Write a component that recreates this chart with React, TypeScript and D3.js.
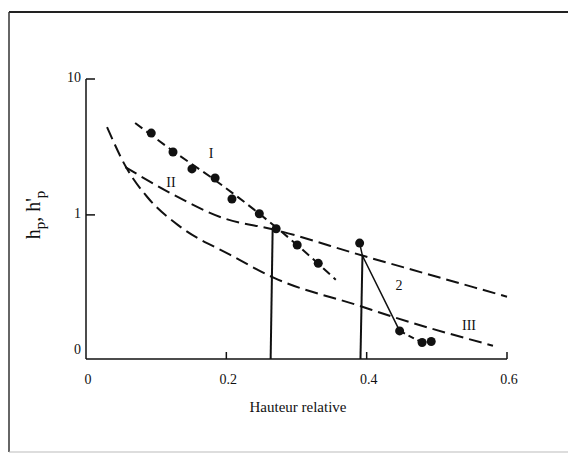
import React from 'react';
import * as d3 from 'd3';

// series I: measured points (dots) and its fitted dashed curve
const dotsIx = [0.093, 0.124, 0.151, 0.184, 0.208, 0.247, 0.271, 0.301, 0.331];
const dotsIy = [4.0, 2.9, 2.18, 1.87, 1.31, 1.02, 0.79, 0.6, 0.44];
const curveIx = [0.07, 0.124, 0.184, 0.247, 0.301, 0.356];
const curveIy = [4.75, 2.95, 1.8, 1.02, 0.6, 0.333];

// curve II
const curveIIx = [0.056, 0.12, 0.195, 0.268, 0.395, 0.48, 0.6];
const curveIIy = [2.25, 1.45, 0.95, 0.78, 0.5, 0.375, 0.25];

// curve III
const curveIIIx = [0.03, 0.057, 0.087, 0.134, 0.205, 0.268, 0.39, 0.437, 0.58];
const curveIIIy = [4.43, 2.25, 1.36, 0.82, 0.51, 0.344, 0.214, 0.178, 0.109];

// series 2
const dots2x = [0.39, 0.447, 0.479, 0.492];
const dots2y = [0.62, 0.14, 0.115, 0.117];
const solid2x = [0.39, 0.394, 0.447];
const solid2y = [0.62, 0.5, 0.14];

// vertical markers
const vertX = [0.266, 0.394];
const vertTop = [0.78, 0.5];

const xTicks = [0, 0.2, 0.4, 0.6];
const xTickLabels = ['0', '0.2', '0.4', '0.6'];
const yTicks = [10, 1, 0.1];
const yTickLabels = ['10', '1', '0'];

const W = 568;
const H = 454;
const serif = '"Liberation Serif", "DejaVu Serif", serif';

export default function App() {
  const x = d3.scaleLinear().domain([0, 0.6]).range([86, 507]);
  const y = d3.scaleLog().domain([0.087, 10]).range([359, 79]);

  const line = d3
    .line<[number, number]>()
    .x((d) => x(d[0]))
    .y((d) => y(d[1]))
    .curve(d3.curveMonotoneX);
  const straight = d3
    .line<[number, number]>()
    .x((d) => x(d[0]))
    .y((d) => y(d[1]));

  const zip = (a: number[], b: number[]) => a.map((v, i) => [v, b[i]] as [number, number]);

  const y0 = y.range()[0];
  const yTop = y.range()[1];

  return (
    <svg
      width={W}
      height={H}
      style={{ position: 'absolute', left: 0, top: 0, background: '#fff' }}
    >
      <rect x={0} y={0} width={W} height={H} fill="#fff" />
      {/* frame */}
      <line x1={9} y1={12} x2={W} y2={12} stroke="#222" strokeWidth={2} />
      <line x1={9} y1={12} x2={9} y2={452} stroke="#333" strokeWidth={1.5} />
      <line x1={9} y1={452} x2={W} y2={452} stroke="#bbb" strokeWidth={1} />

      {/* axes */}
      <line x1={x(0)} y1={yTop} x2={x(0)} y2={y0} stroke="#111" strokeWidth={1.5} />
      <line x1={x(0)} y1={y0} x2={x(0.6)} y2={y0} stroke="#111" strokeWidth={1.5} />
      {yTicks.map((t, i) => (
        <g key={'yt' + i}>
          {t !== 0.1 && (
            <line x1={x(0)} y1={y(t)} x2={x(0) + 9} y2={y(t)} stroke="#111" strokeWidth={1.5} />
          )}
          <text
            x={x(0) - 5}
            y={y(t) + 3}
            textAnchor="end"
            fontFamily={serif}
            fontSize={14}
            fill="#111"
          >
            {yTickLabels[i]}
          </text>
        </g>
      ))}
      {xTicks.map((t, i) => (
        <g key={'xt' + i}>
          {t !== 0 && (
            <line x1={x(t)} y1={y0} x2={x(t)} y2={y0 - 7} stroke="#111" strokeWidth={1.5} />
          )}
          <text x={x(t) + 2} y={y0 + 25} textAnchor="middle" fontFamily={serif} fontSize={14} fill="#111">
            {xTickLabels[i]}
          </text>
        </g>
      ))}
      <text x={298} y={412} textAnchor="middle" fontFamily={serif} fontSize={15} fill="#111">
        Hauteur relative
      </text>
      <text
        transform={`translate(40, 215) rotate(-90)`}
        textAnchor="middle"
        fontFamily={serif}
        fontSize={20}
        fill="#111"
      >
        h<tspan dy={5} fontSize={15}>p</tspan>
        <tspan dy={-5}>, h'</tspan>
        <tspan dy={5} fontSize={15}>p</tspan>
      </text>

      {/* vertical markers */}
      {vertX.map((v, i) => (
        <line
          key={'v' + i}
          x1={x(v)}
          y1={y(vertTop[i])}
          x2={x(v) - 2}
          y2={y0}
          stroke="#111"
          strokeWidth={2}
        />
      ))}

      {/* curves */}
      <path d={line(zip(curveIx, curveIy)) || ''} fill="none" stroke="#111" strokeWidth={2} strokeDasharray="9 5" />
      <path d={line(zip(curveIIx, curveIIy)) || ''} fill="none" stroke="#111" strokeWidth={2} strokeDasharray="13 6" />
      <path d={line(zip(curveIIIx, curveIIIy)) || ''} fill="none" stroke="#111" strokeWidth={2} strokeDasharray="13 6" />
      <path d={straight(zip(solid2x, solid2y)) || ''} fill="none" stroke="#111" strokeWidth={1.5} />
      <path
        d={straight(zip(dots2x.slice(1), dots2y.slice(1))) || ''}
        fill="none"
        stroke="#111"
        strokeWidth={2}
        strokeDasharray="6 4"
      />

      {/* dots */}
      {dotsIx.map((v, i) => (
        <circle key={'dI' + i} cx={x(v)} cy={y(dotsIy[i])} r={4.5} fill="#111" />
      ))}
      {dots2x.map((v, i) => (
        <circle key={'d2' + i} cx={x(v)} cy={y(dots2y[i])} r={4.5} fill="#111" />
      ))}

      {/* curve labels */}
      <text x={211} y={158} textAnchor="middle" fontFamily={serif} fontSize={14} fill="#111">I</text>
      <text x={171} y={187} textAnchor="middle" fontFamily={serif} fontSize={14} fill="#111">II</text>
      <text x={399} y={290} textAnchor="middle" fontFamily={serif} fontSize={14} fill="#111">2</text>
      <text x={469} y={330} textAnchor="middle" fontFamily={serif} fontSize={14} fill="#111">III</text>
    </svg>
  );
}
